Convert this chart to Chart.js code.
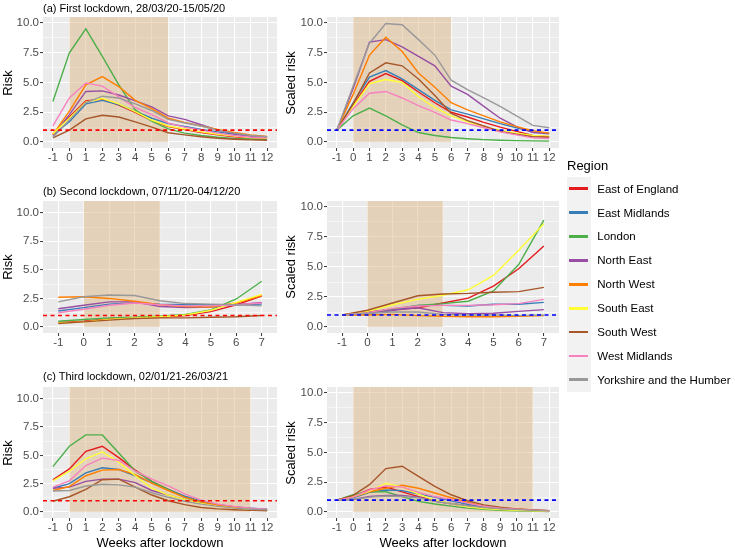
<!DOCTYPE html>
<html>
<head>
<meta charset="utf-8">
<script src="https://cdn.jsdelivr.net/npm/chart.js@4.4.1/dist/chart.umd.min.js"></script>
<style>
  body { margin: 0; background: #fff; font-family: "Liberation Sans", Arial, sans-serif; }
  #wrap { position: relative; width: 735px; height: 548px; overflow: hidden; }
  #wrap canvas { position: absolute; }
  .txt { position: absolute; white-space: nowrap; color: #000; }
  .ptitle { font-size: 11px; line-height: 13px; }
  .atitle { font-size: 13px; line-height: 15px; }
  .vert { transform: translate(-50%, -50%) rotate(-90deg); }
  .hcen { transform: translate(-50%, -50%); }
  .key { position: absolute; }
</style>
</head>
<body>
<div id="wrap"></div>
<script>
// regions and colours (legend order)
const regions = ['East of England', 'East Midlands', 'London', 'North East', 'North West',
                 'South East', 'South West', 'West Midlands', 'Yorkshire and the Humber'];
const regionColors = ['#E41A1C', '#377EB8', '#4DAF4A', '#984EA3', '#FF7F00',
                      '#FFFF33', '#A65628', '#F781BF', '#999999'];

// weeks after lockdown
const weeksFirst  = [-1, 0, 1, 2, 3, 4, 5, 6, 7, 8, 9, 10, 11, 12];
const weeksSecond = [-1, 0, 1, 2, 3, 4, 5, 6, 7];
const weeksThird  = [-1, 0, 1, 2, 3, 4, 5, 6, 7, 8, 9, 10, 11, 12];

// lockdown periods (weeks)
const firstLockdown  = [0, 6];
const secondLockdown = [0, 3];
const thirdLockdown  = [0, 11];

// y tick labels
const yTicks = [0, 2.5, 5, 7.5, 10];
const yMinor = [1.25, 3.75, 6.25, 8.75];

// (a) risk, one row per region
const riskFirst = [
  [0.7, 2.1, 3.45, 3.6, 3.1, 2.5, 1.8, 1.3, 1.05, 0.8, 0.6, 0.45, 0.35, 0.3],
  [0.6, 1.7, 3.2, 3.5, 3.15, 2.6, 2.0, 1.55, 1.3, 1.05, 0.85, 0.65, 0.45, 0.4],
  [3.4, 7.5, 9.5, 7.2, 4.8, 2.7, 1.75, 1.1, 0.75, 0.55, 0.4, 0.3, 0.25, 0.2],
  [0.55, 2.3, 4.25, 4.3, 3.95, 3.45, 2.95, 2.2, 1.9, 1.45, 1.0, 0.7, 0.5, 0.45],
  [0.62, 2.6, 4.8, 5.5, 4.65, 3.5, 2.8, 2.0, 1.65, 1.35, 1.05, 0.8, 0.6, 0.48],
  [0.7, 2.0, 3.35, 3.65, 3.2, 2.55, 1.85, 1.35, 1.1, 0.85, 0.65, 0.5, 0.38, 0.33],
  [0.35, 1.0, 1.95, 2.25, 2.1, 1.7, 1.25, 0.78, 0.6, 0.45, 0.32, 0.24, 0.18, 0.15],
  [1.35, 3.7, 4.95, 4.7, 3.8, 2.9, 2.3, 1.6, 1.25, 1.0, 0.75, 0.55, 0.4, 0.35],
  [0.4, 1.85, 3.3, 3.85, 3.7, 3.2, 2.65, 1.9, 1.6, 1.35, 1.0, 0.75, 0.55, 0.45]
];
// (a) scaled risk
const scaledFirst = [
  [1, 3.1, 5.1, 5.75, 5.15, 4.2, 3.3, 2.5, 2.1, 1.65, 1.25, 0.9, 0.55, 0.45],
  [1, 3.3, 5.45, 6.0, 5.3, 4.4, 3.5, 2.7, 2.35, 1.95, 1.55, 1.2, 0.85, 0.75],
  [1, 2.2, 2.85, 2.2, 1.45, 0.8, 0.55, 0.38, 0.28, 0.2, 0.15, 0.12, 0.1, 0.08],
  [1, 4.5, 8.4, 8.6, 8.0, 7.2, 6.4, 4.7, 4.0, 3.0, 2.0, 1.3, 0.8, 0.7],
  [1, 4.0, 7.3, 8.8, 7.6, 5.8, 4.6, 3.3, 2.7, 2.2, 1.7, 1.3, 0.95, 0.75],
  [1, 3.0, 4.9, 5.25, 5.0, 3.8, 2.9, 2.2, 1.7, 1.3, 1.0, 0.75, 0.55, 0.5],
  [1, 3.2, 5.8, 6.65, 6.4, 5.3, 3.9, 2.4, 1.8, 1.35, 0.9, 0.65, 0.45, 0.4],
  [1, 2.8, 4.1, 4.25, 3.7, 3.05, 2.5, 1.85, 1.55, 1.2, 0.85, 0.6, 0.35, 0.3],
  [1, 4.7, 8.3, 9.95, 9.85, 8.6, 7.3, 5.2, 4.4, 3.7, 3.0, 2.2, 1.4, 1.2]
];
// (b) risk
const riskSecond = [
  [0.4, 0.5, 0.7, 0.8, 0.85, 1.0, 1.35, 1.95, 2.7],
  [1.4, 1.7, 2.0, 2.1, 2.0, 1.95, 1.95, 1.95, 2.0],
  [0.5, 0.65, 0.8, 0.85, 0.95, 1.1, 1.5, 2.45, 4.0],
  [1.6, 1.9, 2.2, 2.2, 1.8, 1.7, 1.75, 1.95, 2.15],
  [2.6, 2.65, 2.5, 2.25, 1.95, 1.8, 1.75, 2.1, 2.75],
  [0.35, 0.45, 0.65, 0.8, 0.9, 1.05, 1.45, 2.15, 2.85],
  [0.3, 0.45, 0.6, 0.75, 0.8, 0.8, 0.85, 0.9, 1.0],
  [1.25, 1.55, 1.9, 2.1, 1.95, 1.85, 1.85, 1.95, 2.1],
  [2.2, 2.65, 2.8, 2.75, 2.3, 2.05, 2.0, 1.95, 1.85]
];
// (b) scaled risk
const scaledSecond = [
  [1, 1.25, 1.45, 1.6, 2.0, 2.4, 3.4, 4.85, 6.75],
  [1, 1.15, 1.4, 1.8, 1.8, 1.75, 1.9, 1.9, 2.05],
  [1, 1.2, 1.5, 1.8, 1.95, 2.15, 3.0, 5.2, 8.9],
  [1, 1.1, 1.4, 1.6, 1.2, 1.1, 1.15, 1.3, 1.45],
  [1, 1.0, 1.05, 0.95, 0.9, 0.85, 0.85, 0.9, 0.95],
  [1, 1.3, 1.85, 2.3, 2.65, 3.1, 4.3, 6.4, 8.6],
  [1, 1.4, 2.0, 2.6, 2.75, 2.8, 2.9, 2.95, 3.3],
  [1, 1.2, 1.55, 1.75, 1.8, 1.8, 1.85, 1.95, 2.3],
  [1, 1.15, 1.25, 1.25, 1.05, 1.0, 1.0, 0.95, 1.0]
];
// (c) risk
const riskThird = [
  [2.85, 3.8, 5.35, 5.8, 4.8, 3.7, 2.7, 2.0, 1.35, 0.95, 0.65, 0.45, 0.3, 0.2],
  [2.1, 2.5, 3.45, 3.9, 3.75, 3.2, 2.6, 2.0, 1.4, 0.95, 0.65, 0.45, 0.35, 0.25],
  [4.0, 5.8, 6.8, 6.8, 5.2, 3.6, 2.7, 2.0, 1.3, 0.9, 0.6, 0.45, 0.3, 0.2],
  [2.1, 2.2, 2.7, 2.9, 2.9, 2.6, 1.9, 1.5, 1.1, 0.8, 0.55, 0.4, 0.3, 0.2],
  [1.9, 2.25, 3.2, 3.7, 3.75, 3.3, 2.55, 1.9, 1.3, 0.9, 0.6, 0.4, 0.3, 0.2],
  [2.75, 3.6, 4.7, 5.3, 4.4, 3.2, 2.1, 1.5, 1.1, 0.75, 0.5, 0.35, 0.25, 0.15],
  [0.95, 1.35, 2.0, 2.85, 2.9, 2.2, 1.5, 1.0, 0.65, 0.4, 0.28, 0.2, 0.15, 0.12],
  [2.2, 2.75, 4.1, 4.75, 4.55, 3.6, 2.9, 2.3, 1.6, 1.05, 0.7, 0.5, 0.35, 0.25],
  [1.85, 1.9, 2.3, 2.45, 2.4, 2.2, 1.7, 1.3, 0.95, 0.7, 0.5, 0.35, 0.25, 0.2]
];
// (c) scaled risk
const scaledThird = [
  [1, 1.3, 1.9, 2.1, 1.7, 1.3, 0.95, 0.7, 0.48, 0.33, 0.23, 0.16, 0.11, 0.08],
  [1, 1.2, 1.65, 1.85, 1.8, 1.5, 1.25, 0.95, 0.65, 0.45, 0.31, 0.22, 0.16, 0.12],
  [1, 1.45, 1.7, 1.7, 1.3, 0.9, 0.68, 0.5, 0.33, 0.23, 0.15, 0.11, 0.08, 0.05],
  [1, 1.05, 1.3, 1.4, 1.4, 1.25, 0.9, 0.72, 0.53, 0.38, 0.27, 0.2, 0.14, 0.1],
  [1, 1.25, 1.7, 2.0, 2.25, 2.0, 1.6, 1.2, 0.8, 0.5, 0.35, 0.25, 0.17, 0.12],
  [1, 1.3, 1.75, 2.4, 2.1, 1.5, 1.0, 0.7, 0.45, 0.3, 0.2, 0.15, 0.1, 0.07],
  [1, 1.4, 2.3, 3.65, 3.85, 3.0, 2.15, 1.45, 0.95, 0.6, 0.4, 0.25, 0.18, 0.12],
  [1, 1.25, 1.85, 2.2, 2.1, 1.65, 1.3, 1.05, 0.75, 0.5, 0.33, 0.23, 0.16, 0.11],
  [1, 1.05, 1.25, 1.35, 1.3, 1.2, 0.92, 0.7, 0.52, 0.38, 0.27, 0.2, 0.14, 0.1]
];

const wrap = document.getElementById('wrap');

// panel placement (plot area in page pixels)
const panels = [
  { weeks: weeksFirst,  values: riskFirst,    lock: firstLockdown,  refColor: '#FF0000', x: 43,  y: 17,  w: 234, h: 131, yMin: -0.5,   yMax: 10.5 },
  { weeks: weeksFirst,  values: scaledFirst,  lock: firstLockdown,  refColor: '#0000FF', x: 327, y: 17,  w: 232, h: 131, yMin: -0.5,   yMax: 10.5 },
  { weeks: weeksSecond, values: riskSecond,   lock: secondLockdown, refColor: '#FF0000', x: 43,  y: 201, w: 234, h: 132, yMin: -0.525, yMax: 11.025 },
  { weeks: weeksSecond, values: scaledSecond, lock: secondLockdown, refColor: '#0000FF', x: 327, y: 201, w: 232, h: 132, yMin: -0.5,   yMax: 10.5 },
  { weeks: weeksThird,  values: riskThird,    lock: thirdLockdown,  refColor: '#FF0000', x: 43,  y: 387, w: 234, h: 131, yMin: -0.525, yMax: 11.025 },
  { weeks: weeksThird,  values: scaledThird,  lock: thirdLockdown,  refColor: '#0000FF', x: 327, y: 387, w: 232, h: 131, yMin: -0.5,   yMax: 10.5 }
];

// background, lockdown shading, reference line
const panelDecor = {
  id: 'panelDecor',
  beforeDraw(chart) {
    const a = chart.chartArea, c = chart.ctx;
    c.save();
    c.fillStyle = '#EBEBEB';
    c.fillRect(a.left, a.top, a.right - a.left, a.bottom - a.top);
    c.restore();
  },
  beforeDatasetsDraw(chart, args, opts) {
    const a = chart.chartArea, c = chart.ctx;
    const x0 = chart.scales.x.getPixelForValue(opts.lock[0]);
    const x1 = chart.scales.x.getPixelForValue(opts.lock[1]);
    const y0 = chart.scales.y.getPixelForValue(0);
    c.save();
    c.fillStyle = 'rgba(222,184,135,0.5)';
    c.fillRect(x0, a.top, x1 - x0, y0 - a.top);
    c.restore();
  },
  afterDatasetsDraw(chart, args, opts) {
    const a = chart.chartArea, c = chart.ctx;
    const yy = chart.scales.y.getPixelForValue(1);
    c.save();
    c.strokeStyle = opts.refColor;
    c.lineWidth = 1.6;
    c.setLineDash([4, 3.5]);
    c.beginPath();
    c.moveTo(a.left, yy);
    c.lineTo(a.right, yy);
    c.stroke();
    c.restore();
  }
};

function makePanel(p) {
  const padTop = 10, padRight = 10, yW = 30, xH = 24;
  const cv = document.createElement('canvas');
  cv.width = yW + p.w + padRight;
  cv.height = padTop + p.h + xH;
  cv.style.left = (p.x - yW) + 'px';
  cv.style.top = (p.y - padTop) + 'px';
  wrap.appendChild(cv);

  const isMajor = v => yTicks.includes(v);
  new Chart(cv, {
    type: 'line',
    data: {
      datasets: p.values.map((vals, i) => ({
        label: regions[i],
        data: p.weeks.map((w, j) => ({ x: w, y: vals[j] })),
        borderColor: regionColors[i],
        borderWidth: 1.4,
        pointRadius: 0,
        tension: 0,
        fill: false,
        order: regions.length - 1 - i
      }))
    },
    plugins: [panelDecor],
    options: {
      responsive: false,
      animation: false,
      events: [],
      layout: { padding: { top: padTop, right: padRight, left: 0, bottom: 0 } },
      plugins: {
        legend: { display: false },
        tooltip: { enabled: false },
        panelDecor: { lock: p.lock, refColor: p.refColor }
      },
      scales: {
        x: {
          type: 'linear',
          min: p.weeks[0] - 0.6,
          max: p.weeks[p.weeks.length - 1] + 0.6,
          afterBuildTicks: s => { s.ticks = p.weeks.map(v => ({ value: v })); },
          afterFit: s => { s.height = xH; },
          border: { display: false },
          grid: { color: '#FFFFFF', lineWidth: 1.1, tickLength: 3, tickColor: '#333333', tickWidth: 1 },
          ticks: {
            autoSkip: false, maxRotation: 0, minRotation: 0, padding: 0,
            color: '#4D4D4D', font: { family: '"Liberation Sans", Arial, sans-serif', size: 11.5 },
            callback: v => String(v)
          }
        },
        y: {
          type: 'linear',
          min: p.yMin,
          max: p.yMax,
          afterBuildTicks: s => {
            s.ticks = yTicks.concat(yMinor).sort((a, b) => a - b).map(v => ({ value: v }));
          },
          afterFit: s => { s.width = yW; },
          border: { display: false },
          grid: {
            color: '#FFFFFF',
            lineWidth: c => (c.tick && isMajor(c.tick.value)) ? 1.1 : 0.55,
            tickLength: 3,
            tickColor: c => (c.tick && isMajor(c.tick.value)) ? '#333333' : 'rgba(0,0,0,0)',
            tickWidth: 1
          },
          ticks: {
            autoSkip: false, padding: 1,
            color: '#4D4D4D', font: { family: '"Liberation Sans", Arial, sans-serif', size: 11.5 },
            callback: v => isMajor(v) ? v.toFixed(1) : ''
          }
        }
      }
    }
  });
}

panels.forEach(makePanel);

// text: panel titles, axis titles
function addText(txt, cls, left, top) {
  const d = document.createElement('div');
  d.className = 'txt ' + cls;
  d.textContent = txt;
  d.style.left = left + 'px';
  d.style.top = top + 'px';
  wrap.appendChild(d);
  return d;
}
addText('(a) First lockdown, 28/03/20-15/05/20', 'ptitle', 43, 8.3 - 6.5);
addText('(b) Second lockdown, 07/11/20-04/12/20', 'ptitle', 43, 191.7 - 6.5);
addText('(c) Third lockdown, 02/01/21-26/03/21', 'ptitle', 43, 376.7 - 6.5);

panels.forEach((p, i) => {
  const cy = p.y + p.h / 2;
  if (i % 2 === 0) addText('Risk', 'atitle vert', 6.7, cy);
  else addText('Scaled risk', 'atitle vert', 290, cy);
});
addText('Weeks after lockdown', 'atitle hcen', 160, 541.5);
addText('Weeks after lockdown', 'atitle hcen', 443, 541.5);

// legend
addText('Region', 'atitle', 567, 165 - 7.5);
const rowH = 23.9, keyTop = 176.7;
const keyBg = document.createElement('div');
keyBg.className = 'key';
Object.assign(keyBg.style, { left: '567px', top: keyTop + 'px', width: '23.5px', height: (rowH * regions.length) + 'px', background: '#F2F2F2' });
wrap.appendChild(keyBg);
regions.forEach((r, i) => {
  const cy = keyTop + rowH * i + rowH / 2;
  const ln = document.createElement('div');
  ln.className = 'key';
  Object.assign(ln.style, { left: '569px', top: (cy - 1.4) + 'px', width: '19px', height: '2.8px', background: regionColors[i] });
  wrap.appendChild(ln);
  const t = addText(r, '', 597.3, cy - 7);
  t.style.fontSize = '11.5px';
  t.style.lineHeight = '14px';
});
</script>
</body>
</html>
